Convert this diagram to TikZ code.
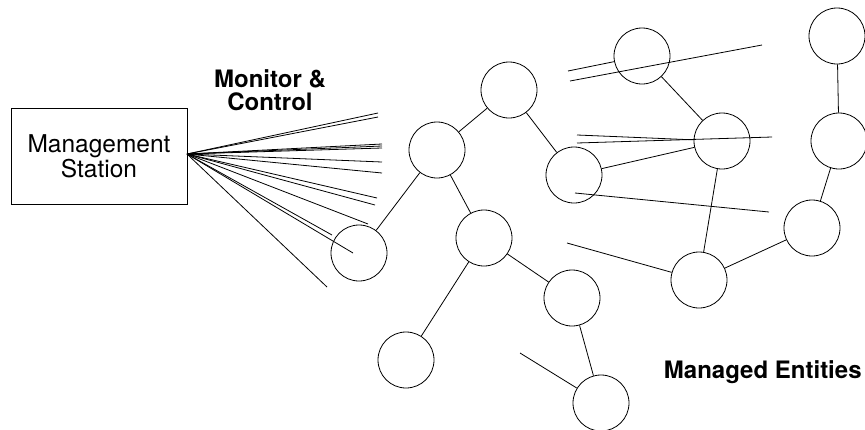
\documentclass[tikz,border=0pt]{standalone}
\usepackage{fontspec}
\setmainfont{TeX Gyre Heros}
\begin{document}
\begin{tikzpicture}[x=1pt,y=-1pt,line width=0.8pt,
  ent/.style={circle,draw,minimum size=56pt,inner sep=0pt},
  lbl/.style={font=\fontsize{24}{22.5}\selectfont\bfseries,align=center,inner sep=0pt}]
\useasboundingbox (0,0) rectangle (865,429);

% management station
\node[draw,minimum width=176pt,minimum height=96pt,align=center,inner sep=0pt,
      font=\fontsize{24.5}{22.7}\selectfont] (ms) at (99,156) {Management\\Station};
\coordinate (hub) at (187,154);

% labels
\node[lbl] (mc) at (270,90) {Monitor \&\\Control};
\node[lbl,anchor=base east] (me) at (862,378) {Managed Entities};

% managed entities
\node[ent] (e1) at (509,90) {};
\node[ent] (e2) at (437,150) {};
\node[ent] (e3) at (574,175) {};
\node[ent] (e4) at (359,253) {};
\node[ent] (e5) at (484,238) {};
\node[ent] (e6) at (572,298) {};
\node[ent] (e7) at (406,360) {};
\node[ent] (e8) at (601,403) {};
\node[ent] (e9) at (642,56) {};
\node[ent] (e10) at (722,141) {};
\node[ent] (e11) at (699,280) {};
\node[ent] (e12) at (812,228) {};
\node[ent] (e13) at (839,141) {};
\node[ent] (e14) at (837,36) {};

% network links
\draw (e1) -- (e2);
\draw (e1) -- (e3);
\draw (e2) -- (e5);
\draw (e2) -- (e4);
\draw (e5) -- (e7);
\draw (e5) -- (e6);
\draw (e6) -- (e8);
\draw (e3) -- (e10);
\draw (e9) -- (e10);
\draw (e10) -- (e11);
\draw (e11) -- (e12);
\draw (e12) -- (e13);
\draw (e13) -- (e14);

% loose link ends
\coordinate (l1) at (568,71);
\coordinate (l2a) at (570,81);   \coordinate (l2b) at (762,45);
\coordinate (l3) at (577,135);
\coordinate (l4a) at (577,143);  \coordinate (l4b) at (772,137);
\coordinate (l5a) at (575,193);  \coordinate (l5b) at (769,212);
\coordinate (l6) at (567,243);
\coordinate (l7) at (520,353);
\draw (l1) -- (e9);
\draw (l2a) -- (l2b);
\draw (l3) -- (e10);
\draw (l4a) -- (l4b);
\draw (l5a) -- (l5b);
\draw (l6) -- (e11);
\draw (l7) -- (e8);

% monitor and control fan
\coordinate (f1) at (378,113);
\coordinate (f2) at (378,117);
\coordinate (f3) at (382,144);
\coordinate (f4) at (382,146);
\coordinate (f5) at (382,148);
\coordinate (f6) at (382,162);
\coordinate (f7) at (382,173);
\coordinate (f8) at (377,198);
\coordinate (f9) at (375,205);
\coordinate (f10) at (368,224);
\coordinate (f11) at (332,235);
\coordinate (f12) at (353,253);
\coordinate (f13) at (327,287);
\foreach \n in {f1,f2,f3,f4,f5,f6,f7,f8,f9,f10,f11,f12,f13}
  \draw (hub) -- (\n);
\end{tikzpicture}
\end{document}
